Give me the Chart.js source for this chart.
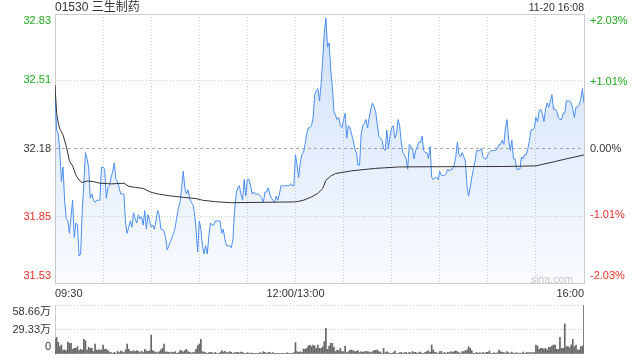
<!DOCTYPE html>
<html>
<head>
<meta charset="utf-8">
<title>01530 三生制药</title>
<script src="https://cdn.jsdelivr.net/npm/chart.js@4.4.1/dist/chart.umd.min.js"></script>
<style>
  html, body { margin: 0; padding: 0; background: #fff; }
  #wrap {
    position: relative; width: 640px; height: 360px; overflow: hidden;
    font-family: "Liberation Sans", Arial, "Noto Sans CJK SC", sans-serif; color: #333;
  }
  #priceChart { position: absolute; left: 0; top: 0; }
  #volChart { position: absolute; left: 0; top: 300px; }
  .hd { position: absolute; top: 0; line-height: 14px; white-space: nowrap; }
  #stock { left: 55px; font-size: 12px; }
  #stamp { right: 56px; font-size: 10.5px; }
  #mark { position: absolute; right: 67px; top: 272px; line-height: 14px; font-size: 10.5px; color: #c8c8c8; }
</style>
</head>
<body>
<div id="wrap">
  <canvas id="priceChart" width="640" height="300"></canvas>
  <canvas id="volChart" width="640" height="60"></canvas>
  <div class="hd" id="stock">01530 三生制药</div>
  <div class="hd" id="stamp">11-20 16:08</div>
  <div id="mark">sina.com</div>
</div>
<script>
// ── Data (minute index 0 = 09:30, 150 = 12:00/13:00, 330 = 16:00) ──
const prevClose = 32.18;

const prices = [
  32.44, 32.27, 32.25, 32.17, 32.02, 32.09, 31.93, 31.84, 31.83, 31.77,
  31.85, 31.93, 31.75, 31.82, 31.81, 31.66, 31.67, 31.88, 32.01, 32.16,
  32.13, 32.09, 31.94, 31.96, 31.93, 31.92, 31.93, 31.93, 31.93, 32.09,
  32.09, 32.08, 31.94, 31.99, 32.00, 32.04, 32.07, 32.11, 32.03, 32.02,
  31.99, 31.96, 31.96, 31.96, 31.82, 31.77, 31.80, 31.83, 31.80, 31.87,
  31.84, 31.82, 31.86, 31.84, 31.85, 31.81, 31.88, 31.79, 31.86, 31.83,
  31.80, 31.81, 31.79, 31.83, 31.88, 31.86, 31.79, 31.79, 31.78, 31.75,
  31.69, 31.71, 31.73, 31.75, 31.77, 31.80, 31.85, 31.89, 31.92, 31.99,
  32.07, 31.99, 31.96, 31.98, 31.94, 31.92, 31.91, 31.87, 31.79, 31.68,
  31.83, 31.79, 31.71, 31.67, 31.71, 31.67, 31.76, 31.82, 31.81, 31.81,
  31.83, 31.83, 31.83, 31.83, 31.77, 31.79, 31.74, 31.71, 31.71, 31.71,
  31.70, 31.74, 31.88, 31.96, 31.99, 32.00, 31.96, 31.93, 32.03, 31.95,
  32.03, 32.03, 32.00, 31.96, 31.97, 31.96, 31.96, 31.96, 31.95, 31.94,
  31.92, 31.97, 31.97, 31.99, 31.96, 31.94, 31.93, 31.92, 31.95, 31.93,
  31.96, 32.00, 32.00, 32.00, 32.00, 32.00, 32.00, 32.01, 32.00, 32.00,
  32.15, 32.10, 32.04, 32.11, 32.15, 32.16, 32.20, 32.25, 32.28, 32.28,
  32.29, 32.33, 32.44, 32.46, 32.47, 32.41, 32.49, 32.61, 32.74, 32.81,
  32.67, 32.69, 32.56, 32.48, 32.36, 32.34, 32.32, 32.33, 32.29, 32.28,
  32.32, 32.35, 32.23, 32.29, 32.28, 32.25, 32.22, 32.18, 32.16, 32.10,
  32.10, 32.25, 32.29, 32.30, 32.32, 32.28, 32.33, 32.37, 32.40, 32.38,
  32.36, 32.30, 32.24, 32.23, 32.22, 32.18, 32.17, 32.27, 32.18, 32.24,
  32.28, 32.29, 32.23, 32.25, 32.32, 32.29, 32.21, 32.16, 32.15, 32.13,
  32.08, 32.20, 32.19, 32.18, 32.13, 32.17, 32.19, 32.21, 32.21, 32.24,
  32.17, 32.16, 32.16, 32.13, 32.19, 32.04, 32.03, 32.04, 32.04, 32.03,
  32.07, 32.05, 32.05, 32.05, 32.06, 32.08, 32.07, 32.08, 32.08, 32.10,
  32.14, 32.21, 32.15, 32.14, 32.16, 32.14, 32.12, 32.00, 31.95, 31.99,
  32.04, 32.08, 32.12, 32.17, 32.17, 32.17, 32.18, 32.14, 32.13, 32.13,
  32.15, 32.16, 32.17, 32.17, 32.17, 32.17, 32.18, 32.20, 32.20, 32.22,
  32.20, 32.28, 32.32, 32.22, 32.17, 32.22, 32.13, 32.13, 32.08, 32.08,
  32.08, 32.14, 32.13, 32.15, 32.15, 32.18, 32.22, 32.27, 32.27, 32.28,
  32.33, 32.31, 32.36, 32.37, 32.35, 32.31, 32.37, 32.40, 32.38, 32.41,
  32.44, 32.37, 32.37, 32.36, 32.33, 32.32, 32.32, 32.35, 32.35, 32.41,
  32.41, 32.41, 32.40, 32.37, 32.33, 32.38, 32.38, 32.39, 32.42, 32.47, 32.40
];

// average price line, read at a few minutes (it is smooth)
const avgMinutes = [
  0, 1, 2, 3, 5, 7, 9, 11, 13, 15, 17, 20, 24, 28, 35, 43, 46, 50, 55, 60,
  65, 72, 80, 88, 92, 100, 110, 130, 150, 155, 160, 164, 167, 169, 172, 175, 185, 200, 215, 240,
  280, 300, 305, 312, 320, 325, 330
];
const avgPrices = [
  32.487, 32.352, 32.304, 32.275, 32.246, 32.192, 32.120, 32.096, 32.052, 32.028,
  32.015, 32.023, 32.020, 32.012, 32.009, 32.012, 31.997, 31.992, 31.987, 31.968,
  31.959, 31.951, 31.944, 31.938, 31.930, 31.923, 31.918, 31.920, 31.922, 31.930,
  31.946, 31.963, 31.987, 32.026, 32.047, 32.059, 32.072, 32.084, 32.091, 32.092,
  32.093, 32.096, 32.105, 32.117, 32.132, 32.140, 32.149
];

// volume per minute, 万股
const volumes = [
  17.5, 20, 14, 9, 10.8, 4.8, 4.8, 4, 14.4, 12.8,
  12.8, 5.6, 6.8, 6.8, 8.8, 4, 5.6, 4.8, 17.6, 15.6,
  4.8, 8, 6.8, 6.8, 3, 12, 4.8, 4.8, 4.8, 4.8,
  10.8, 5.6, 5.6, 4, 2.4, 1.6, 0.8, 2, 0.8, 3.2,
  1.6, 3.6, 2.8, 1.6, 4.8, 12, 5.6, 3.2, 2.8, 4,
  2.8, 4, 3.2, 1.6, 3.2, 1.6, 5.6, 3.6, 2.8, 4,
  22.7, 4, 2.8, 2.4, 1.6, 2.8, 4.8, 6.8, 12, 2.4,
  2.4, 2, 1.6, 2.4, 2, 2.8, 0.8, 1.6, 4, 4,
  2.4, 4, 5.6, 2.8, 2, 1.2, 1.6, 2.4, 5.6, 10,
  12, 17.6, 2.8, 2.4, 1.6, 0.8, 1.6, 2, 1.6, 0.8,
  2, 0.8, 0.8, 1.6, 4, 2.4, 3.2, 1.6, 1.6, 2.8,
  2, 0.8, 1.6, 1.6, 2, 1.2, 2.4, 2, 0.8, 0.8,
  1.6, 1.2, 0.8, 1.2, 0.4, 0.8, 0.4, 0.8, 1.6, 0.8,
  2.8, 2, 0.8, 1.6, 2, 0.8, 1.8, 0.8, 0.8, 0.8,
  0.4, 0.8, 0.8, 0.8, 0.8, 1.6, 0.8, 0.4, 0.8, 1.6,
  13.6, 2.8, 2, 2.8, 1.6, 6, 5.6, 6.8, 9.6, 10.8,
  8.8, 10.8, 9.6, 6.8, 10.8, 6.8, 6.8, 8.8, 14.8, 30.8,
  5.6, 9.6, 12.8, 12.8, 8, 2.8, 4.8, 4, 6.8, 2.8,
  2.8, 9.6, 1.6, 2.8, 4.8, 4.8, 4, 2.8, 3.2, 4,
  1.6, 2.8, 2, 2.8, 3.2, 2.8, 2.4, 1.6, 2.8, 4,
  4.4, 4.8, 2.8, 2.4, 0.8, 6.8, 1.6, 2.8, 1.6, 0.8,
  0.8, 1.6, 3.6, 0.8, 0.4, 1.6, 2, 0.8, 1.6, 2,
  0.8, 2, 1.2, 2.8, 2, 2, 0.8, 1.6, 2.4, 0.8,
  0.8, 2, 2.8, 4, 2, 10.8, 4.8, 2, 1.6, 0.8,
  2.8, 3.2, 0.8, 2, 0.8, 2, 1.6, 2.8, 2, 2.8,
  3.6, 2.8, 1.6, 0.8, 2.8, 2.8, 4, 4.8, 8.8, 6.8,
  4, 0.8, 0.4, 2, 0.8, 1.6, 0.8, 2, 0.8, 2,
  2, 3.6, 0.8, 0.4, 1.6, 0.8, 1.6, 4.8, 2.8, 2,
  1.6, 1.2, 2.8, 1.6, 0.8, 2.4, 0.8, 1.2, 1.6, 0.8,
  1.2, 0.8, 2.4, 0.8, 1.6, 1.6, 1.6, 1.6, 1.6, 1.6,
  10.8, 9.6, 5.6, 6.8, 6.8, 5.6, 6.8, 4.8, 8, 8,
  9.6, 10.8, 10.8, 5.6, 5.6, 20, 6.8, 6.8, 36, 8.8,
  8.8, 7.6, 10.8, 17.6, 8.8, 10.8, 4.8, 4.8, 8.8, 9.6, 58.66
];

// ── Axis ticks ───────────────────────────────────────────────────
const priceTicks = [31.53, 31.85, 32.18, 32.51, 32.83];
const pctTicks = [-2.03, -1.01, 0, 1.01, 2.03];
const pctLabels = ["-2.03%", "-1.01%", "0.00%", "+1.01%", "+2.03%"];
const volTicks = [0, 29.33, 58.66];
const volLabels = ["0", "29.33万", "58.66万"];
const timeTicks = [0, 30, 60, 90, 120, 150, 180, 210, 240, 270, 300, 330];
const timeLabels = ["09:30", "", "", "", "", "12:00/13:00", "", "", "", "", "", "16:00"];

// ── Style ────────────────────────────────────────────────────────
const UP = "#22a722";
const DOWN = "#ee2c2c";
const FLAT = "#333";
const GRID = "#cfcfcf";
const BORDER = "#cccccc";

Chart.defaults.font.family = '"Liberation Sans", Arial, "Noto Sans CJK SC", sans-serif';
Chart.defaults.font.size = 11;

function tickColor(v, mid) {
  if (v > mid) return UP;
  if (v < mid) return DOWN;
  return FLAT;
}

// keep top / bottom labels inside the plot (shift by half a line)
function edgeLabel(label, i, n) {
  if (i === n - 1) return ["", label];
  if (i === 0) return [label, ""];
  return label;
}

// fixed axis width, and no extra room asked for the edge labels
function fixWidth(w) {
  return s => {
    s.width = w;
    s.paddingTop = 0;
    s.paddingBottom = 0;
  };
}

function fillGradient(context) {
  const { ctx, chartArea } = context.chart;
  if (!chartArea) return "rgba(78,142,240,0.15)";
  const g = ctx.createLinearGradient(0, chartArea.top, 0, chartArea.bottom);
  g.addColorStop(0, "rgba(78,142,240,0.28)");
  g.addColorStop(1, "rgba(78,142,240,0.03)");
  return g;
}

// ── Price chart ──────────────────────────────────────────────────
new Chart(document.getElementById("priceChart"), {
  type: "line",
  data: {
    datasets: [
      {
        label: "均价",
        data: avgMinutes.map((m, i) => ({ x: m, y: avgPrices[i] })),
        borderColor: "#333",
        borderWidth: 1,
        pointRadius: 0,
        tension: 0,
        fill: false
      },
      {
        label: "价格",
        data: prices.map((p, i) => ({ x: i, y: p })),
        borderColor: "#4c8df0",
        borderWidth: 1,
        pointRadius: 0,
        tension: 0,
        fill: "start",
        backgroundColor: fillGradient
      }
    ]
  },
  options: {
    responsive: false,
    animation: false,
    events: [],
    layout: { padding: { top: 14, left: 0, right: 0, bottom: 0 } },
    plugins: { legend: { display: false }, tooltip: { enabled: false } },
    scales: {
      x: {
        type: "linear",
        min: 0,
        max: 330,
        afterBuildTicks: s => { s.ticks = timeTicks.map(v => ({ value: v })); },
        afterFit: s => { s.height = 17; s.paddingLeft = 0; s.paddingRight = 0; },
        ticks: {
          autoSkip: false,
          maxRotation: 0,
          align: "inner",
          padding: 4,
          color: FLAT,
          callback: (v, i) => timeLabels[i]
        },
        grid: { color: GRID, drawTicks: false },
        border: {
          color: BORDER,
          dash: c => (c.tick && c.index > 0 && c.index < timeTicks.length - 1) ? [1, 2] : []
        }
      },
      y: {
        position: "left",
        min: 31.53,
        max: 32.83,
        afterBuildTicks: s => { s.ticks = priceTicks.map(v => ({ value: v })); },
        afterFit: fixWidth(55),
        ticks: {
          autoSkip: false,
          padding: 4,
          color: c => tickColor(c.tick.value, prevClose),
          callback: (v, i, t) => edgeLabel(v.toFixed(2), i, t.length)
        },
        grid: {
          drawTicks: false,
          color: c => {
            if (!c.tick) return BORDER;
            if (c.tick.value === prevClose) return "#aaaaaa";
            if (c.index === 0 || c.index === priceTicks.length - 1) return BORDER;
            return GRID;
          }
        },
        border: {
          color: BORDER,
          dash: c => {
            if (!c.tick) return [];
            if (c.index === 0 || c.index === priceTicks.length - 1) return [];
            if (c.tick.value === prevClose) return [3, 3];
            return [1, 2];
          }
        }
      },
      y2: {
        position: "right",
        min: -2.03,
        max: 2.03,
        afterBuildTicks: s => { s.ticks = pctTicks.map(v => ({ value: v })); },
        afterFit: fixWidth(56),
        ticks: {
          autoSkip: false,
          padding: 6,
          color: c => tickColor(c.tick.value, 0),
          callback: (v, i, t) => edgeLabel(pctLabels[i], i, t.length)
        },
        grid: { drawOnChartArea: false, drawTicks: false },
        border: { color: BORDER }
      }
    }
  }
});

// ── Volume chart ─────────────────────────────────────────────────
new Chart(document.getElementById("volChart"), {
  type: "bar",
  data: {
    datasets: [{
      label: "成交量",
      data: volumes.map((v, i) => ({ x: i, y: v })),
      backgroundColor: "#666",
      barThickness: 1
    }]
  },
  options: {
    responsive: false,
    animation: false,
    events: [],
    layout: { padding: { top: 5, right: 56, bottom: 6, left: 0 } },
    plugins: { legend: { display: false }, tooltip: { enabled: false } },
    scales: {
      x: {
        type: "linear",
        min: 0,
        max: 330,
        offset: false,
        display: false,
        grid: { offset: false }
      },
      y: {
        min: 0,
        max: 58.66,
        afterBuildTicks: s => { s.ticks = volTicks.map(v => ({ value: v })); },
        afterFit: fixWidth(55),
        ticks: {
          autoSkip: false,
          padding: 4,
          color: FLAT,
          callback: (v, i, t) => edgeLabel(volLabels[i], i, t.length)
        },
        grid: {
          drawTicks: false,
          color: c => (c.tick && c.tick.value === 0) ? "rgba(0,0,0,0)" : GRID
        },
        border: { color: BORDER, dash: c => c.tick ? [1, 2] : [] }
      }
    }
  }
});
</script>
</body>
</html>
